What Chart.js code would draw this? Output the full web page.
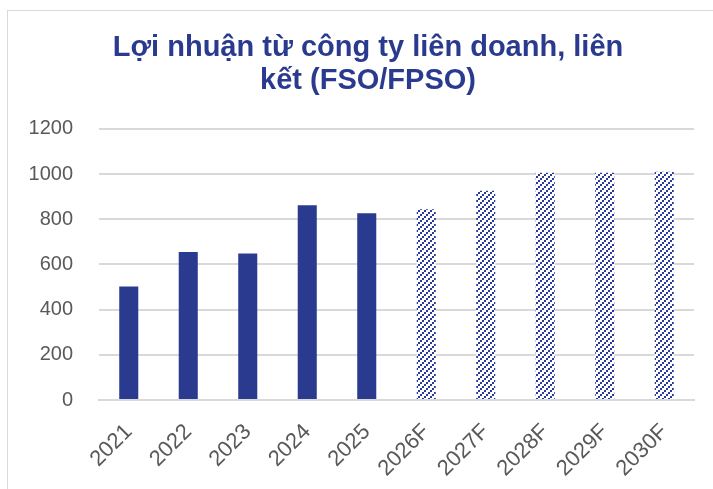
<!DOCTYPE html>
<html>
<head>
<meta charset="utf-8">
<script src="https://cdn.jsdelivr.net/npm/chart.js@4"></script>
<style>
  html, body { margin: 0; padding: 0; background: #fff; overflow: hidden; }
  #frame { position: absolute; left: 7px; top: 10px; width: 730px; height: 500px; border: 1px solid #d9d9d9; }
  #wrap { position: absolute; left: 0; top: 0; width: 713px; height: 489px; }
</style>
</head>
<body>
<div id="frame"></div>
<div id="wrap"><canvas id="chart"></canvas></div>
<script>
const titleLines = ["Lợi nhuận từ công ty liên doanh, liên", "kết (FSO/FPSO)"];
const years = ["2021", "2022", "2023", "2024", "2025", "2026F", "2027F", "2028F", "2029F", "2030F"];
const profit = [503, 655, 649, 862, 827, 844, 926, 1006, 1006, 1010];
const yTicks = [0, 200, 400, 600, 800, 1000, 1200];

const navy = "#2a3b8f";
const fontFamily = "'Liberation Sans', Arial, sans-serif";

// dotted diagonal hatch for forecast years
function makeHatch() {
  const c = document.createElement("canvas");
  c.width = 6;
  c.height = 6;
  const g = c.getContext("2d");
  g.fillStyle = "#ffffff";
  g.fillRect(0, 0, 6, 6);
  g.fillStyle = "#2a3a9c";
  g.fillRect(4, 0, 2, 2);
  g.fillRect(2, 2, 2, 2);
  g.fillRect(0, 4, 2, 2);
  return g.createPattern(c, "repeat");
}

const hatch = makeHatch();
const fills = years.map((y) => (y.endsWith("F") ? hatch : navy));

new Chart(document.getElementById("chart"), {
  type: "bar",
  data: {
    labels: years,
    datasets: [
      {
        data: profit,
        backgroundColor: fills,
        borderWidth: 0,
        categoryPercentage: 1,
        barPercentage: 0.32,
      },
    ],
  },
  options: {
    responsive: true,
    maintainAspectRatio: false,
    animation: false,
    layout: { padding: { left: 23, right: 0, top: 0, bottom: 0 } },
    plugins: {
      legend: { display: false },
      tooltip: { enabled: false },
      title: {
        display: true,
        text: titleLines,
        color: navy,
        font: { family: fontFamily, size: 29, weight: "bold", lineHeight: 1.12 },
        padding: { top: 32, bottom: 32 },
      },
    },
    scales: {
      x: {
        grid: { display: false },
        border: { color: "#d9d9d9", width: 2 },
        ticks: {
          color: "#595959",
          font: { family: fontFamily, size: 22 },
          maxRotation: 45,
          minRotation: 45,
          padding: 11,
        },
        afterFit: (s) => { s.height = 89; },
      },
      y: {
        min: 0,
        max: 1200,
        afterBuildTicks: (s) => { s.ticks = yTicks.map((v) => ({ value: v })); },
        grid: { color: "#d9d9d9", lineWidth: 2, drawTicks: false },
        border: { display: false },
        ticks: {
          color: "#595959",
          font: { family: fontFamily, size: 20 },
          padding: 26,
          callback: (v) => String(v),
        },
        afterFit: (s) => { s.width = 76; },
      },
      // empty right axis, only keeps the plot off the right edge
      yRight: {
        position: "right",
        min: 0,
        max: 1200,
        grid: { display: false },
        border: { display: false },
        ticks: { display: false },
        afterFit: (s) => { s.width = 19; },
      },
    },
  },
});
</script>
</body>
</html>
